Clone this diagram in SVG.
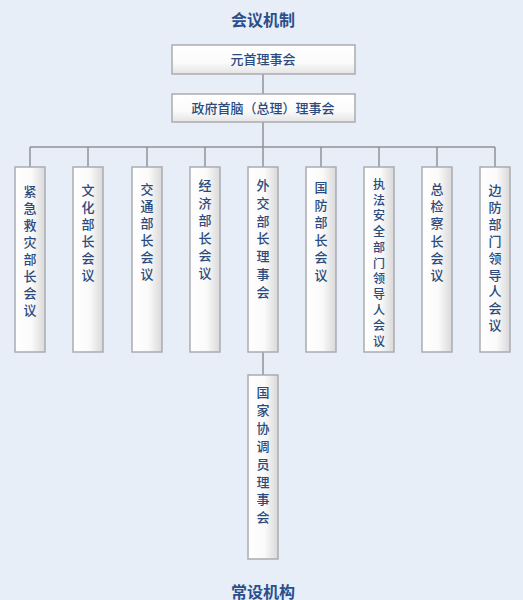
<svg xmlns="http://www.w3.org/2000/svg" width="523" height="600" viewBox="0 0 523 600">
<defs>
<linearGradient id="gh" x1="0" y1="0" x2="0" y2="1">
<stop offset="0" stop-color="#ffffff"/>
<stop offset="0.6" stop-color="#fbfbfb"/>
<stop offset="1" stop-color="#e4e4e4"/>
</linearGradient>
<linearGradient id="gv" x1="0" y1="0" x2="1" y2="0">
<stop offset="0" stop-color="#ffffff"/>
<stop offset="0.55" stop-color="#fafafa"/>
<stop offset="1" stop-color="#d9d9d9"/>
</linearGradient>
<style>
.bh{fill:url(#gh);stroke:#a9acb0;stroke-width:1.5}
.bv{fill:url(#gv);stroke:#a9acb0;stroke-width:1.5}
.t{font-family:"Noto Sans CJK SC","Noto Sans",sans-serif;font-size:13px;font-weight:500;fill:#2c4a7c;text-anchor:middle}
.h{font-family:"Noto Sans CJK SC","Noto Sans",sans-serif;font-size:16px;font-weight:bold;fill:#2a4f8c;text-anchor:middle}
.c{stroke:#8e9298;stroke-width:1.5;fill:none}
</style>
</defs>
<rect width="523" height="600" fill="#e8eef8"/>
<text class="h" x="263" y="26">会议机制</text>
<text class="h" x="263" y="598">常设机构</text>
<g id="connectors">
<path class="c" d="M263 74V94M263 122V147M30 147H495M30 147V167M88 147V167M147 147V167M205 147V167M263 147V167M321 147V167M379 147V167M437 147V167M495 147V167M263 352V375"/>
</g>
<g id="n-yuanshou">
<rect class="bh" x="172" y="45" width="183" height="29"/>
<text class="t" x="263" y="64">元首理事会</text>
</g>
<g id="n-zhengfu">
<rect class="bh" x="172" y="94" width="183" height="28"/>
<text class="t" x="263" y="113">政府首脑（总理）理事会</text>
</g>
<g id="n1">
<rect class="bv" x="15" y="167" width="30" height="185"/>
<text class="t" x="30" y="196"><tspan x="30">紧</tspan><tspan x="30" dy="17">急</tspan><tspan x="30" dy="17">救</tspan><tspan x="30" dy="17">灾</tspan><tspan x="30" dy="17">部</tspan><tspan x="30" dy="17">长</tspan><tspan x="30" dy="17">会</tspan><tspan x="30" dy="17">议</tspan></text>
</g>
<g id="n2">
<rect class="bv" x="73" y="167" width="30" height="185"/>
<text class="t" x="88" y="195"><tspan x="88">文</tspan><tspan x="88" dy="17">化</tspan><tspan x="88" dy="17">部</tspan><tspan x="88" dy="17">长</tspan><tspan x="88" dy="17">会</tspan><tspan x="88" dy="17">议</tspan></text>
</g>
<g id="n3">
<rect class="bv" x="132" y="167" width="30" height="185"/>
<text class="t" x="147" y="194"><tspan x="147">交</tspan><tspan x="147" dy="17">通</tspan><tspan x="147" dy="17">部</tspan><tspan x="147" dy="17">长</tspan><tspan x="147" dy="17">会</tspan><tspan x="147" dy="17">议</tspan></text>
</g>
<g id="n4">
<rect class="bv" x="190" y="167" width="30" height="185"/>
<text class="t" x="205" y="190"><tspan x="205">经</tspan><tspan x="205" dy="17.6">济</tspan><tspan x="205" dy="17.6">部</tspan><tspan x="205" dy="17.6">长</tspan><tspan x="205" dy="17.6">会</tspan><tspan x="205" dy="17.6">议</tspan></text>
</g>
<g id="n5">
<rect class="bv" x="248" y="167" width="30" height="185"/>
<text class="t" x="263" y="190"><tspan x="263">外</tspan><tspan x="263" dy="17.8">交</tspan><tspan x="263" dy="17.8">部</tspan><tspan x="263" dy="17.8">长</tspan><tspan x="263" dy="17.8">理</tspan><tspan x="263" dy="17.8">事</tspan><tspan x="263" dy="17.8">会</tspan></text>
</g>
<g id="n6">
<rect class="bv" x="306" y="167" width="30" height="185"/>
<text class="t" x="321" y="192"><tspan x="321">国</tspan><tspan x="321" dy="17.6">防</tspan><tspan x="321" dy="17.6">部</tspan><tspan x="321" dy="17.6">长</tspan><tspan x="321" dy="17.6">会</tspan><tspan x="321" dy="17.6">议</tspan></text>
</g>
<g id="n7">
<rect class="bv" x="364" y="167" width="30" height="185"/>
<text class="t" x="379" y="189" style="font-size:12px"><tspan x="379">执</tspan><tspan x="379" dy="15.7">法</tspan><tspan x="379" dy="15.7">安</tspan><tspan x="379" dy="15.7">全</tspan><tspan x="379" dy="15.7">部</tspan><tspan x="379" dy="15.7">门</tspan><tspan x="379" dy="15.7">领</tspan><tspan x="379" dy="15.7">导</tspan><tspan x="379" dy="15.7">人</tspan><tspan x="379" dy="15.7">会</tspan><tspan x="379" dy="15.7">议</tspan></text>
</g>
<g id="n8">
<rect class="bv" x="422" y="167" width="30" height="185"/>
<text class="t" x="437" y="194"><tspan x="437">总</tspan><tspan x="437" dy="17.2">检</tspan><tspan x="437" dy="17.2">察</tspan><tspan x="437" dy="17.2">长</tspan><tspan x="437" dy="17.2">会</tspan><tspan x="437" dy="17.2">议</tspan></text>
</g>
<g id="n9">
<rect class="bv" x="480" y="167" width="30" height="185"/>
<text class="t" x="495" y="195"><tspan x="495">边</tspan><tspan x="495" dy="16.9">防</tspan><tspan x="495" dy="16.9">部</tspan><tspan x="495" dy="16.9">门</tspan><tspan x="495" dy="16.9">领</tspan><tspan x="495" dy="16.9">导</tspan><tspan x="495" dy="16.9">人</tspan><tspan x="495" dy="16.9">会</tspan><tspan x="495" dy="16.9">议</tspan></text>
</g>
<g id="n10">
<rect class="bv" x="248" y="375" width="30" height="184"/>
<text class="t" x="263" y="397"><tspan x="263">国</tspan><tspan x="263" dy="17.9">家</tspan><tspan x="263" dy="17.9">协</tspan><tspan x="263" dy="17.9">调</tspan><tspan x="263" dy="17.9">员</tspan><tspan x="263" dy="17.9">理</tspan><tspan x="263" dy="17.9">事</tspan><tspan x="263" dy="17.9">会</tspan></text>
</g>
</svg>
